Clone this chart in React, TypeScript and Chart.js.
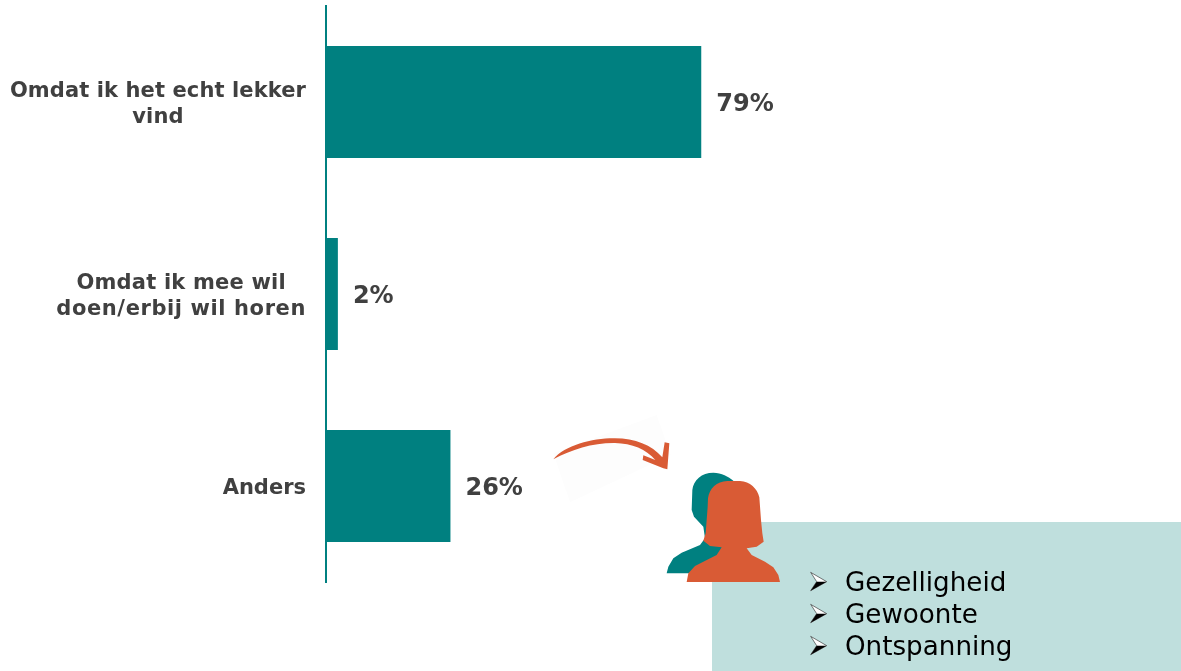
import React, { useEffect, useRef } from "react";
import { Chart, registerables } from "chart.js";

Chart.register(...registerables);

const categories = [
  ["Omdat ik het echt lekker", "vind"],
  ["Omdat ik mee wil", "doen/erbij wil horen"],
  ["Anders"],
];
const values = [79, 2.5, 26.2];
const valueLabels = ["79%", "2%", "26%"];
const reasons = ["Gezelligheid", "Gewoonte", "Ontspanning"];

const TEAL = "#008080";
const ORANGE = "#D95B35";
const TEXT = "#404040";
const FONT = "'DejaVu Sans', sans-serif";
const TRACKING = [[0.1, 0.1], [0.2, 0.6], [0]];

const sideLabels = {
  id: "sideLabels",
  afterDatasetsDraw(chart: any) {
    const { ctx, scales } = chart;
    const y = scales.y;
    const meta = chart.getDatasetMeta(0);
    ctx.save();
    ctx.fillStyle = TEXT;
    ctx.font = `bold 21px ${FONT}`;
    ctx.textBaseline = "middle";
    categories.forEach((lines, i) => {
      const cy = y.getPixelForTick(i);
      const widths = lines.map((l, k) => {
        ctx.letterSpacing = `${TRACKING[i][k]}px`;
        return ctx.measureText(l).width;
      });
      const cx = y.right - 20 - Math.max(...widths) / 2;
      ctx.textAlign = "left";
      lines.forEach((l, k) => {
        ctx.letterSpacing = `${TRACKING[i][k]}px`;
        ctx.fillText(l, cx - widths[k] / 2, cy + 3 + (k - (lines.length - 1) / 2) * 26);
      });
    });
    ctx.letterSpacing = "0px";
    ctx.font = `bold 24px ${FONT}`;
    ctx.textAlign = "left";
    meta.data.forEach((bar: any, i: number) => {
      ctx.fillText(valueLabels[i], bar.x + 15, bar.y + 3);
    });
    ctx.restore();
  },
};

export default function App() {
  const ref = useRef<HTMLCanvasElement>(null);
  useEffect(() => {
    const chart = new Chart(ref.current!, {
      type: "bar",
      data: {
        labels: categories.map((c) => c.join(" ")),
        datasets: [
          {
            data: values,
            backgroundColor: TEAL,
            barPercentage: 112 / 192,
            categoryPercentage: 1,
          },
        ],
      },
      options: {
        indexAxis: "y",
        animation: false,
        responsive: false,
        layout: { padding: { top: 6, bottom: 89, left: 0, right: 0 } },
        plugins: { legend: { display: false }, tooltip: { enabled: false } },
        scales: {
          x: { min: 0, max: 180, display: false },
          y: {
            afterFit: (s: any) => {
              s.width = 326;
            },
            grid: { display: false, drawTicks: false },
            border: { display: true, color: TEAL, width: 2 },
            ticks: { display: false },
          },
        },
      },
      plugins: [sideLabels],
    } as any);
    return () => chart.destroy();
  }, []);

  return (
    <div style={{ position: "absolute", left: 0, top: 0, width: 1181, height: 671, overflow: "hidden", background: "#fff" }}>
      <div style={{ position: "absolute", left: 712, top: 522, width: 469, height: 149, background: "#BFDFDD" }} />
      <canvas ref={ref} width={1181} height={671} style={{ position: "absolute", left: 0, top: 0, display: "block" }} />
      <svg style={{ position: "absolute", left: 540, top: 410 }} width={300} height={200} viewBox="0 0 900 600">
        <path d="M40 130 L350 15 L392 135 L90 277 Z" fill="#FDFDFD" />
        <path
          d="M40 148 C75 105 160 84 225 85 C285 85 335 105 367 142 L374 97 L388 100 L382 178 L370 175 L308 150 L310 136 L346 150 C320 118 275 100 225 99 C160 98 95 118 40 148 Z"
          fill={ORANGE}
        />
        <path
          d="M380 490 L385 470 L400 445 L425 428 L480 405 L495 385 L490 350 L462 320 L455 300 L457 240 C460 210 485 188 520 188 C545 188 565 200 580 212 L600 490 Z"
          fill={TEAL}
        />
        <path
          d="M440 516 L445 490 L465 468 L490 455 L530 435 L545 412 L510 408 L490 392 L497 370 L500 330 L503 290 L504 265 C508 235 530 214 562 213 L600 213 C630 215 652 235 658 262 L663 330 L667 370 L671 395 L650 410 L620 415 L635 435 L675 455 L700 472 L715 495 L720 516 Z"
          fill={ORANGE}
        />
      </svg>
      <div style={{ position: "absolute", left: 845, top: 566, fontFamily: FONT, fontSize: 26.2, lineHeight: "32px", color: "#000" }}>
        {reasons.map((r) => (
          <div key={r} style={{ height: 32 }}>{r}</div>
        ))}
      </div>
      <svg style={{ position: "absolute", left: 780, top: 550 }} width={60} height={121} viewBox="0 0 180 363">
        {reasons.map((r, i) => (
          <g key={r} transform={`translate(0 ${i * 96})`}>
            <path d="M92 67 L140 95 L92 122 L110 95 Z" fill="#fff" stroke="#333" strokeWidth={2} />
            <path d="M110 95 L140 95 L92 122 Z" fill="#000" />
          </g>
        ))}
      </svg>
    </div>
  );
}
